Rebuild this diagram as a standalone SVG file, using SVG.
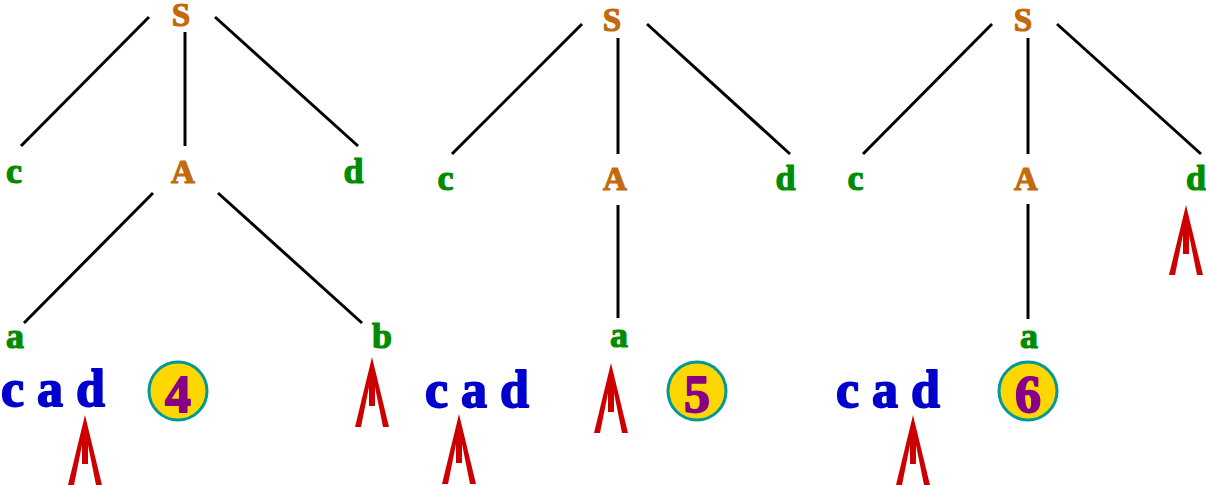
<svg xmlns="http://www.w3.org/2000/svg" xmlns:xlink="http://www.w3.org/1999/xlink" width="1206" height="485" viewBox="0 0 1206 485">
<style>
text{font-family:"Liberation Serif","Times New Roman",serif;font-weight:bold;stroke-linejoin:round}
.nt{fill:#C26A0C;stroke:#C26A0C;stroke-width:1.2;font-size:33px;text-anchor:middle}
.lf{fill:#008C00;stroke:#008C00;stroke-width:1.2;font-size:36px;text-anchor:middle}
.in{fill:#0000CC;stroke:#0000CC;stroke-width:1.8;font-size:52px}
.num{fill:#880088;stroke:#880088;stroke-width:1.8;font-size:52px;text-anchor:middle}
.edge{stroke:#000;stroke-width:3;fill:none}
.badge{fill:#FFD700;stroke:#009999;stroke-width:3}
.ptr{fill:#CC0000}
</style>
<defs>
<path id="arrow" d="M0,0 L17,70 L11,70 L3,30 L3,49 L-3,49 L-3,30 L-11,70 L-17,70 Z"/>
</defs>
<rect width="1206" height="485" fill="#fff"/>
<g id="connectors">
<line class="edge" x1="149" y1="17" x2="21" y2="146"/>
<line class="edge" x1="185" y1="32" x2="185" y2="146"/>
<line class="edge" x1="215" y1="17" x2="358" y2="146"/>
<line class="edge" x1="153" y1="193" x2="24" y2="323"/>
<line class="edge" x1="218" y1="193" x2="362" y2="323"/>
<line class="edge" x1="582" y1="24" x2="452" y2="154"/>
<line class="edge" x1="618" y1="38" x2="618" y2="154"/>
<line class="edge" x1="647" y1="24" x2="790" y2="154"/>
<line class="edge" x1="618" y1="205" x2="618" y2="318"/>
<line class="edge" x1="992" y1="24" x2="863" y2="154"/>
<line class="edge" x1="1028" y1="38" x2="1028" y2="154"/>
<line class="edge" x1="1057" y1="24" x2="1201" y2="154"/>
<line class="edge" x1="1028" y1="204" x2="1028" y2="319"/>
</g>
<g id="tree1">
<g id="t1-S"><text class="nt" x="181" y="26">S</text></g>
<g id="t1-c"><text class="lf" x="14" y="183">c</text></g>
<g id="t1-A"><text class="nt" x="183" y="183">A</text></g>
<g id="t1-d"><text class="lf" x="353.5" y="183">d</text></g>
<g id="t1-a"><text class="lf" x="15" y="348">a</text></g>
<g id="t1-b"><text class="lf" x="382" y="348">b</text></g>
<g id="t1-input"><text class="in" x="1" y="406">c a d</text></g>
<g id="t1-badge"><circle class="badge" cx="178" cy="391" r="29"/><text class="num" x="178" y="412">4</text></g>
<g id="t1-ptr"><use xlink:href="#arrow" class="ptr" x="85" y="415"/><use xlink:href="#arrow" class="ptr" x="372" y="357"/></g>
</g>
<g id="tree2">
<g id="t2-S"><text class="nt" x="612" y="31">S</text></g>
<g id="t2-c"><text class="lf" x="445.5" y="190">c</text></g>
<g id="t2-A"><text class="nt" x="615" y="190">A</text></g>
<g id="t2-d"><text class="lf" x="785.5" y="190">d</text></g>
<g id="t2-a"><text class="lf" x="619" y="347">a</text></g>
<g id="t2-input"><text class="in" x="425" y="407">c a d</text></g>
<g id="t2-badge"><circle class="badge" cx="697" cy="391" r="29"/><text class="num" x="697" y="412">5</text></g>
<g id="t2-ptr"><use xlink:href="#arrow" class="ptr" x="459" y="414"/><use xlink:href="#arrow" class="ptr" x="611" y="363"/></g>
</g>
<g id="tree3">
<g id="t3-S"><text class="nt" x="1023" y="31">S</text></g>
<g id="t3-c"><text class="lf" x="855.5" y="190">c</text></g>
<g id="t3-A"><text class="nt" x="1026" y="190">A</text></g>
<g id="t3-d"><text class="lf" x="1196" y="190">d</text></g>
<g id="t3-a"><text class="lf" x="1029" y="348">a</text></g>
<g id="t3-input"><text class="in" x="836" y="407">c a d</text></g>
<g id="t3-badge"><circle class="badge" cx="1028" cy="391" r="29"/><text class="num" x="1028" y="412">6</text></g>
<g id="t3-ptr"><use xlink:href="#arrow" class="ptr" x="913" y="415"/><use xlink:href="#arrow" class="ptr" x="1186" y="205"/></g>
</g>
</svg>
